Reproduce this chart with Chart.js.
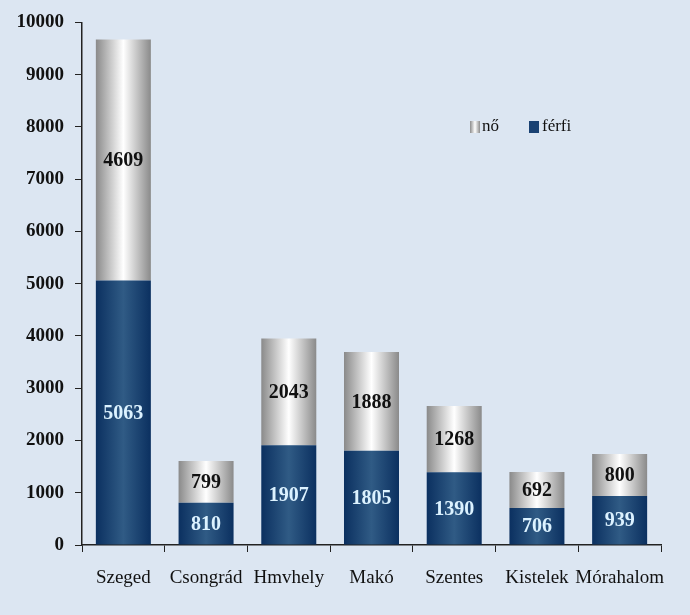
<!DOCTYPE html>
<html>
<head>
<meta charset="utf-8">
<script src="https://cdn.jsdelivr.net/npm/chart.js@4.4.1/dist/chart.umd.min.js"></script>
<style>
  html, body { margin: 0; padding: 0; background: #dce6f2; }
  #wrap { width: 690px; height: 615px; }
</style>
</head>
<body>
<div id="wrap"><canvas id="chart" width="690" height="615"></canvas></div>
<script>
// telepules, ferfi / no
const towns = ["Szeged", "Csongrád", "Hmvhely", "Makó", "Szentes", "Kistelek", "Mórahalom"];
const ferfi = [5063, 810, 1907, 1805, 1390, 706, 939];
const no = [4609, 799, 2043, 1888, 1268, 692, 800];
const yTicks = [0, 1000, 2000, 3000, 4000, 5000, 6000, 7000, 8000, 9000, 10000];

const BAR_PCT = 0.665;
const SERIF = "'Liberation Serif', 'Times New Roman', serif";

function barGradient(ctx, dark, light) {
    const chart = ctx.chart;
    const xs = chart.scales.x;
    if (!xs || ctx.dataIndex === undefined) return dark;
    const cx = xs.getPixelForValue(ctx.dataIndex);
    const w = xs.width / towns.length * BAR_PCT;
    if (!isFinite(cx) || !isFinite(w) || w <= 0) return dark;
    const g = chart.ctx.createLinearGradient(cx - w / 2, 0, cx + w / 2, 0);
    g.addColorStop(0, dark);
    g.addColorStop(0.5, light);
    g.addColorStop(1, dark);
    return g;
}

const barLabels = {
    id: "barLabels",
    afterDatasetsDraw(chart) {
        const c = chart.ctx;
        c.save();
        c.font = "bold 20px " + SERIF;
        c.textAlign = "center";
        c.textBaseline = "middle";
        chart.data.datasets.forEach((ds, i) => {
            const meta = chart.getDatasetMeta(i);
            meta.data.forEach((el, j) => {
                const y = (el.y + el.base) / 2;
                c.fillStyle = i === 0 ? "#dcf2ff" : "#111111";
                c.fillText(String(ds.data[j]), el.x, y + 1);
            });
        });
        c.restore();
    }
};

const insideLegend = {
    id: "insideLegend",
    afterDraw(chart) {
        const c = chart.ctx;
        c.save();
        c.font = "17px " + SERIF;
        c.textBaseline = "middle";
        // nő
        let g = c.createLinearGradient(470, 0, 480, 0);
        g.addColorStop(0, "#8c8c8c");
        g.addColorStop(0.5, "#ffffff");
        g.addColorStop(1, "#8c8c8c");
        c.fillStyle = g;
        c.fillRect(470, 121, 10, 12);
        c.fillStyle = "#111111";
        c.fillText("nő", 482, 127);
        // férfi
        c.fillStyle = "#1a4273";
        c.fillRect(529, 121, 10, 12);
        c.fillStyle = "#111111";
        c.fillText("férfi", 542, 127);
        c.restore();
    }
};

new Chart(document.getElementById("chart"), {
    type: "bar",
    data: {
        labels: towns,
        datasets: [
            {
                label: "férfi",
                data: ferfi,
                backgroundColor: (ctx) => barGradient(ctx, "#0b3060", "#305b85"),
                borderWidth: 0
            },
            {
                label: "nő",
                data: no,
                backgroundColor: (ctx) => barGradient(ctx, "#8a8a8a", "#ffffff"),
                borderWidth: 0
            }
        ]
    },
    options: {
        responsive: false,
        animation: false,
        barPercentage: BAR_PCT,
        categoryPercentage: 1,
        layout: { padding: { left: 0, top: 21, right: 29, bottom: 0 } },
        plugins: {
            legend: { display: false },
            tooltip: { enabled: false }
        },
        scales: {
            x: {
                stacked: true,
                grid: {
                    drawOnChartArea: false,
                    offset: true,
                    color: "#222222",
                    tickLength: 7
                },
                border: { color: "#222222", width: 1.5 },
                ticks: {
                    color: "#111111",
                    padding: 15,
                    maxRotation: 0,
                    autoSkip: false,
                    font: { family: SERIF, size: 19 }
                },
                afterFit: (s) => { s.height = 70; }
            },
            y: {
                stacked: true,
                min: 0,
                max: 10000,
                afterBuildTicks: (s) => { s.ticks = yTicks.map(v => ({ value: v })); },
                grid: {
                    drawOnChartArea: false,
                    color: "#222222",
                    tickLength: 7
                },
                border: { color: "#222222", width: 1.5 },
                ticks: {
                    color: "#111111",
                    padding: 11,
                    callback: (v) => String(v),
                    font: { family: SERIF, size: 19, weight: "bold" }
                },
                afterFit: (s) => { s.width = 82; }
            }
        }
    },
    plugins: [barLabels, insideLegend]
});
</script>
</body>
</html>
